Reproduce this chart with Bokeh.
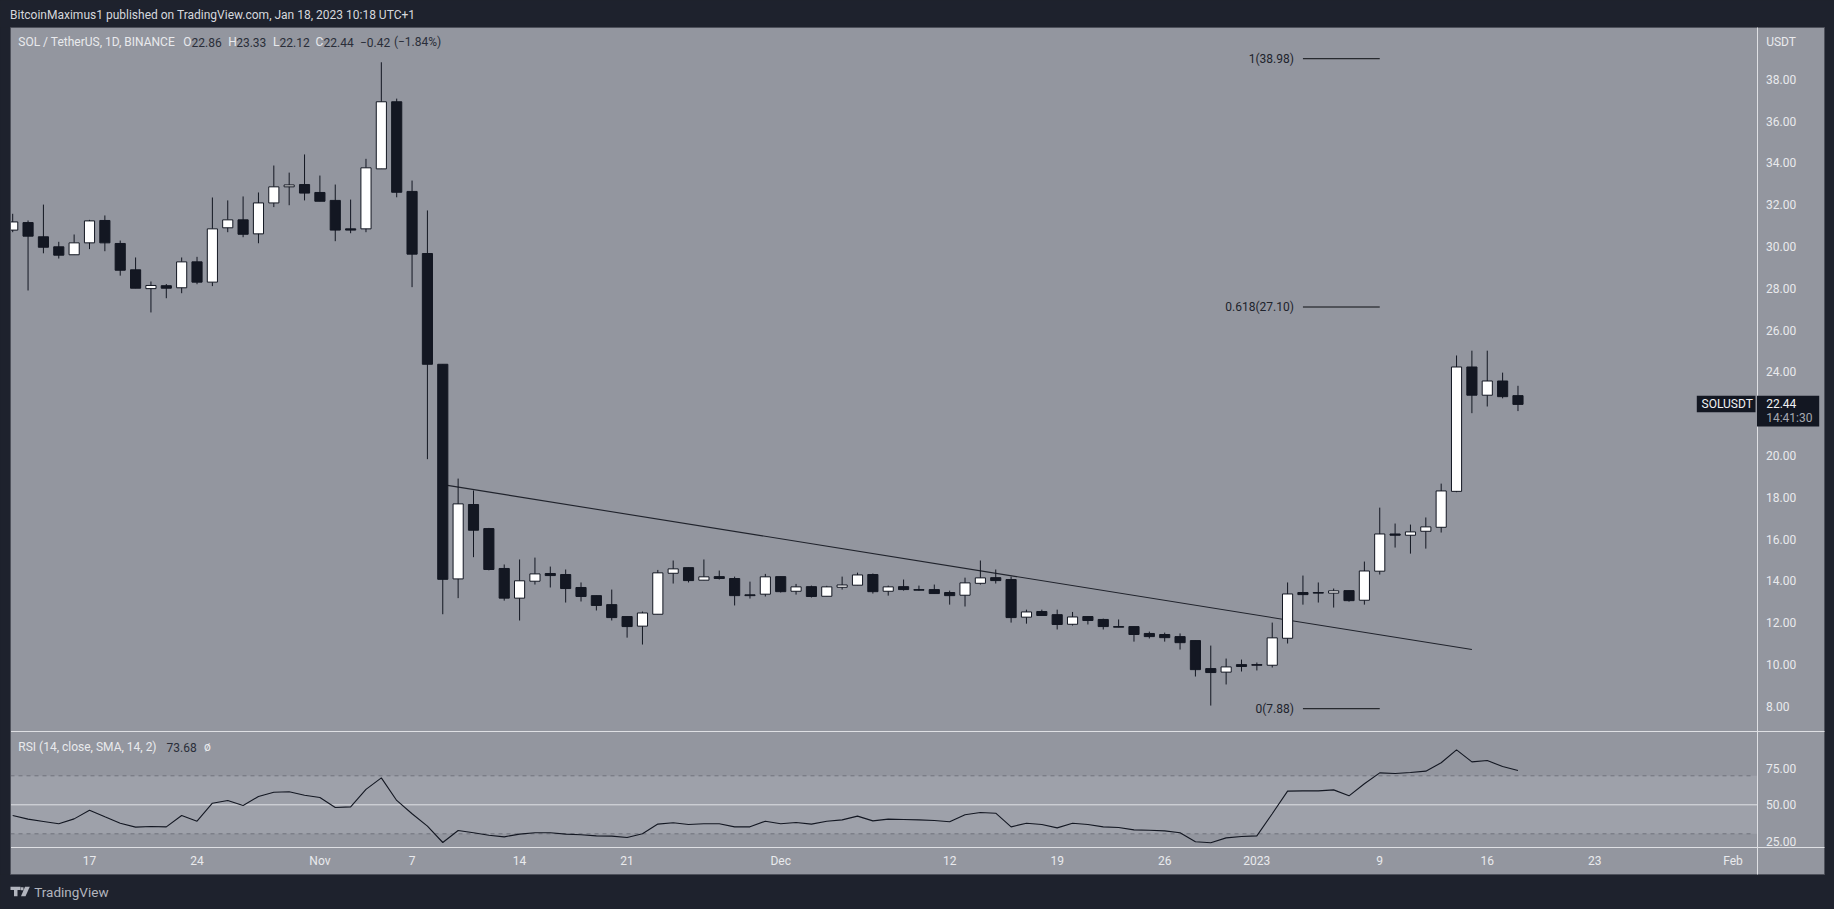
from bokeh.embed import file_html
from bokeh.resources import INLINE
from bokeh.plotting import figure
from bokeh.models import (Range1d, LinearAxis, FixedTicker, PrintfTickFormatter, Label,
                          BoxAnnotation, PolyAnnotation)

# ---- data -------------------------------------------------------------
days = list(range(-5, 94))   # day index, 0 = 17 Oct 2022
opens = [30.78,31.14,30.46,29.98,29.60,30.17,31.24,30.14,28.88,27.98,28.12,28.02,29.26,28.29,30.89,31.27,30.60,32.08,32.85,32.96,
         32.58,32.20,30.84,30.84,33.71,36.92,32.63,29.66,24.36,14.09,17.65,16.50,14.59,13.17,13.98,14.35,14.30,13.68,13.29,12.86,
         12.29,11.83,12.40,14.36,14.63,14.03,14.20,14.11,13.33,13.36,14.20,13.50,13.72,13.26,13.69,13.79,14.30,13.50,13.72,13.58,
         13.58,13.44,13.31,13.88,14.15,14.06,12.26,12.53,12.38,11.92,12.29,12.15,11.81,11.81,11.48,11.43,11.33,11.14,9.80,9.63,
         9.99,9.99,9.96,11.25,13.44,13.44,13.41,13.53,13.07,14.46,16.24,16.18,16.37,16.56,18.28,24.23,22.88,23.56,22.86]
highs = [31.56,31.24,32.00,30.22,30.57,31.27,31.48,30.28,29.47,28.32,28.20,29.47,29.50,32.34,32.20,32.39,32.58,33.87,33.53,34.40,
         33.39,32.96,32.24,34.19,38.81,37.07,33.15,31.72,24.36,18.89,18.32,16.53,14.78,15.02,15.11,14.68,14.54,13.92,13.29,13.58,
         12.29,12.53,14.52,14.97,14.63,15.02,14.49,14.20,13.96,14.33,14.20,13.85,13.77,13.76,14.20,14.39,14.35,13.77,14.06,13.77,
         13.82,13.53,14.15,14.97,14.54,14.20,12.62,12.62,12.62,12.51,12.29,12.19,12.15,11.81,11.57,11.52,11.48,11.14,10.90,10.28,
         10.23,10.09,12.00,13.92,14.25,13.92,13.63,13.53,14.92,17.50,16.74,16.69,17.03,18.65,24.78,25.01,25.01,23.96,23.33]
lows = [30.68,27.89,29.67,29.42,29.60,29.87,29.77,28.60,28.00,26.84,27.52,27.76,28.19,28.10,30.68,30.44,30.15,31.88,31.97,32.20,
        32.16,30.25,30.63,30.68,33.71,32.35,28.05,19.82,12.40,13.17,15.13,14.50,13.05,12.10,13.82,13.68,12.96,13.01,12.58,12.10,
        11.28,10.95,12.40,13.87,13.92,14.03,14.06,12.82,13.15,13.25,13.44,13.34,13.20,13.26,13.58,13.79,13.39,13.29,13.53,13.53,
        13.39,12.86,12.77,13.82,13.87,12.00,11.95,12.34,11.67,11.86,11.91,11.67,11.78,11.09,11.24,11.09,10.71,9.42,8.03,9.04,
        9.66,9.71,9.85,11.00,12.86,12.96,12.72,13.00,12.86,14.30,15.59,15.30,15.54,16.31,18.24,22.02,22.34,22.73,22.12]
closes = [31.17,30.49,29.96,29.58,30.17,31.22,30.17,28.86,28.00,28.13,28.00,29.26,28.29,30.84,31.27,30.58,32.08,32.85,32.94,32.55,
          32.16,30.78,30.78,33.76,36.92,32.59,29.63,24.36,14.07,17.68,16.42,14.54,13.17,14.00,14.33,14.25,13.63,13.25,12.82,12.24,
          11.81,12.46,14.38,14.57,14.01,14.19,14.11,13.29,13.29,14.19,13.48,13.71,13.25,13.71,13.80,14.28,13.48,13.71,13.58,13.55,
          13.39,13.29,13.90,14.14,14.01,12.24,12.51,12.34,11.91,12.27,12.10,11.81,11.78,11.43,11.33,11.28,11.04,9.75,9.61,9.88,
          9.90,9.96,11.27,13.37,13.34,13.41,13.52,13.05,14.47,16.24,16.18,16.34,16.58,18.30,24.23,22.88,23.56,22.81,22.44]
rsi = [42.6,40.1,38.5,36.9,40.3,46.3,41.7,37.3,34.6,35.0,34.8,42.6,38.7,51.1,53.0,49.5,55.7,58.7,59.0,56.6,
       55.0,48.1,48.6,60.6,68.6,53.0,43.8,35.3,24.0,32.3,30.7,29.0,27.9,29.8,30.7,30.7,29.8,29.3,28.6,28.4,
       27.5,30.0,36.7,37.6,36.4,36.9,36.9,34.8,34.8,38.7,36.9,37.8,36.7,38.7,39.6,42.2,38.9,40.1,39.9,39.6,
       39.2,38.3,43.1,44.7,44.2,34.8,37.3,36.4,34.1,37.3,36.4,34.8,34.3,32.7,32.5,32.0,30.7,24.5,23.8,27.2,
       28.1,28.6,43.8,59.4,59.6,59.6,60.3,56.2,64.5,72.0,71.6,72.3,73.2,79.0,87.9,79.6,80.5,76.4,73.68]
price_ticks = [8, 10, 12, 14, 16, 18, 20, 22, 24, 26, 28, 30, 32, 34, 36, 38]
rsi_ticks = [25, 50, 75]
rsi_bands = [30, 70]
time_ticks = [0, 7, 15, 21, 28, 35, 45, 56, 63, 70, 76, 84, 91, 98, 107]
time_labels = ["17", "24", "Nov", "7", "14", "21", "Dec", "12", "19", "26", "2023", "9", "16", "23", "Feb"]
fib_levels = [38.98, 27.10, 7.88]
fib_names = ["1(38.98)", "0.618(27.10)", "0(7.88)"]
fib_days = [79, 84]
trend_days = [23, 90]
trend_prices = [18.6, 10.71]

# ---- layout (page pixels -> scale) -------------------------------------
W, H = 1834, 909
PX_DAY, X0 = 15.36, 89.0
PX_UNIT, Y38 = 20.9, 78.7
RSI_PX, Y50 = 1.45, 804.3
L, R, T, B = 10, 1824, 27, 874
AXIS_X, SEP_Y, TIME_Y = 1756.5, 731, 846.7

def dx(px): return (px - X0) / PX_DAY
def py(px): return 38 - (px - Y38) / PX_UNIT
def ry(px): return 50 - (px - Y50) / RSI_PX

DARK = "#1e222d"; BG = "#93969f"; BAND = "#9ea1aa"; INK = "#131722"; WHITE = "#e9eaed"; LINE = "#dfe0e4"
FONT = "Roboto"

p = figure(width=W, height=H, output_backend="svg", toolbar_location=None,
           x_range=Range1d(dx(0), dx(W)), y_range=Range1d(py(H), py(0)),
           x_axis_type=None, y_axis_type=None,
           min_border=0, background_fill_color=DARK, border_fill_color=DARK, outline_line_color=None)
p.grid.visible = False
p.extra_y_ranges["rsi"] = Range1d(ry(H), ry(0))

# chart box
p.quad(left=[dx(L)], right=[dx(R)], bottom=[py(B)], top=[py(T)], fill_color=BG, line_color="#4e515b", line_width=1)

# RSI pane
p.quad(left=[dx(L)], right=[dx(AXIS_X)], bottom=[rsi_bands[0]], top=[rsi_bands[1]], y_range_name="rsi",
       fill_color=BAND, line_color=None)
for v in rsi_bands:
    p.line([dx(L), dx(AXIS_X - 3)], [v, v], y_range_name="rsi", line_color="#6f727c", line_dash=[4, 4], line_width=1)
p.line([dx(L), dx(AXIS_X)], [50, 50], y_range_name="rsi", line_color=LINE, line_width=1)
p.line([dx(L), dx(R)], [py(SEP_Y), py(SEP_Y)], line_color=LINE, line_width=1)
p.line(days, rsi, y_range_name="rsi", line_color=INK, line_width=1.1)

# drawings below candles
p.line(trend_days, trend_prices, line_color="#20232c", line_width=1.1)
for lv in fib_levels:
    p.line(fib_days, [lv, lv], line_color="#0c0e13", line_width=1)

# candles
up_i = [i for i in range(len(days)) if closes[i] >= opens[i]]
dn_i = [i for i in range(len(days)) if closes[i] < opens[i]]
p.segment(days, lows, days, highs, line_color=INK, line_width=1)
p.vbar([days[i] for i in up_i], top=[closes[i] for i in up_i], bottom=[opens[i] for i in up_i], width=0.66,
       fill_color="#ffffff", line_color=INK, line_width=1)
p.vbar([days[i] for i in dn_i], top=[opens[i] for i in dn_i], bottom=[closes[i] for i in dn_i], width=0.66,
       fill_color=INK, line_color=INK, line_width=1)

# the leftmost candle is cut by the chart's left edge
p.add_layout(BoxAnnotation(left=dx(0), right=dx(L), bottom=py(B), top=py(T), fill_color=DARK, fill_alpha=1,
                           line_color=None))
p.add_layout(BoxAnnotation(left=dx(L - 0.5), right=dx(L + 0.5), bottom=py(B), top=py(T), fill_color="#4e515b",
                           fill_alpha=1, line_color=None))

# axes
pa = LinearAxis(fixed_location=dx(AXIS_X), ticker=FixedTicker(ticks=price_ticks),
                formatter=PrintfTickFormatter(format="%.2f"), bounds=(py(B), py(T)))
ra = LinearAxis(fixed_location=dx(AXIS_X), y_range_name="rsi", ticker=FixedTicker(ticks=rsi_ticks),
                formatter=PrintfTickFormatter(format="%.2f"))
for a, col in ((pa, LINE), (ra, None)):
    a.axis_line_color = col
    a.major_tick_line_color = None
    a.minor_tick_line_color = None
    a.major_tick_out = 0
    a.major_tick_in = 0
    a.major_label_standoff = 9
    a.major_label_text_color = WHITE
    a.major_label_text_font = FONT
    a.major_label_text_font_size = "12px"
    p.add_layout(a, "right")
ta = LinearAxis(fixed_location=py(TIME_Y), ticker=FixedTicker(ticks=time_ticks),
                major_label_overrides=dict(zip(time_ticks, time_labels)), bounds=(dx(L), dx(R)))
ta.axis_line_color = LINE
ta.major_tick_line_color = None
ta.minor_tick_line_color = None
ta.major_tick_out = 0
ta.major_tick_in = 0
ta.major_label_standoff = 7
ta.major_label_text_color = WHITE
ta.major_label_text_font = FONT
ta.major_label_text_font_size = "12px"
p.add_layout(ta, "below")

def txt(x, y, s, color=WHITE, size=12, align="left", style="normal"):
    p.add_layout(Label(x=dx(x), y=py(y), text=s, text_color=color, text_font=FONT, text_font_size=f"{size}px",
                       text_align=align, text_baseline="middle", text_font_style=style))

# header / footer
txt(9.5, 14.7, "BitcoinMaximus1 published on TradingView.com, Jan 18, 2023 10:18 UTC+1", "#d6d8dd", 12)
txt(33.7, 891.7, "TradingView", "#b2b5be", 13.5)
logo = [[(10, 886.3), (20, 886.3), (20, 889.6), (17, 889.6), (17, 895.7), (13.5, 895.7), (13.5, 889.6), (10, 889.6)],
        [(20.3, 886.8), (23, 886.8), (23, 889.8), (20.3, 889.8)],
        [(24.5, 886.3), (29.3, 886.3), (25, 895.7), (20.5, 895.7)]]
for poly in logo:
    p.add_layout(PolyAnnotation(xs=[dx(a) for a, _ in poly], ys=[py(b) for _, b in poly],
                                fill_color="#b2b5be", fill_alpha=1, line_color=None))

# legend line
VAL = "#2a2e39"
txt(17.8, 41.7, "SOL / TetherUS, 1D, BINANCE", WHITE)
for x, s in ((182.7, "O"), (227.8, "H"), (272.4, "L"), (315, "C")):
    txt(x, 41.7, s, WHITE)
for x, s in ((191, "22.86"), (235.7, "23.33"), (279, "22.12"), (323, "22.44"), (359.4, "\u22120.42"), (393.4, "(\u22121.84%)")):
    txt(x, 41.7, s, VAL)

# RSI legend
txt(17.8, 746.7, "RSI (14, close, SMA, 14, 2)", WHITE)
txt(166, 746.7, "73.68", VAL)
txt(203.6, 746.7, "\u00f8", WHITE)

# fib labels
for lv, name in zip(fib_levels, fib_names):
    p.add_layout(Label(x=dx(1293.4), y=lv, text=name, text_color="#20232c", text_font=FONT, text_font_size="12px",
                       text_align="right", text_baseline="middle"))

# right side tags
txt(1765.7, 41, "USDT", WHITE)
p.add_layout(BoxAnnotation(left=dx(1696.3), right=dx(1755), top=py(395.3), bottom=py(411.7),
                           fill_color=INK, fill_alpha=1, line_color=None))
p.add_layout(BoxAnnotation(left=dx(1756.5), right=dx(1818.7), top=py(395.3), bottom=py(426),
                           fill_color=INK, fill_alpha=1, line_color=None))
txt(1701, 403.6, "SOLUSDT", "#f0f1f3", 12)
txt(1765.7, 403.3, "22.44", "#f0f1f3", 12)
txt(1765.7, 417.7, "14:41:30", "#a5a8b0", 12)

html = file_html(p, INLINE)
html = html.replace("</head>", "<style>html,body{background:#1e222d;overflow:hidden;margin:0}</style></head>", 1)
open("out.html", "w").write(html)
